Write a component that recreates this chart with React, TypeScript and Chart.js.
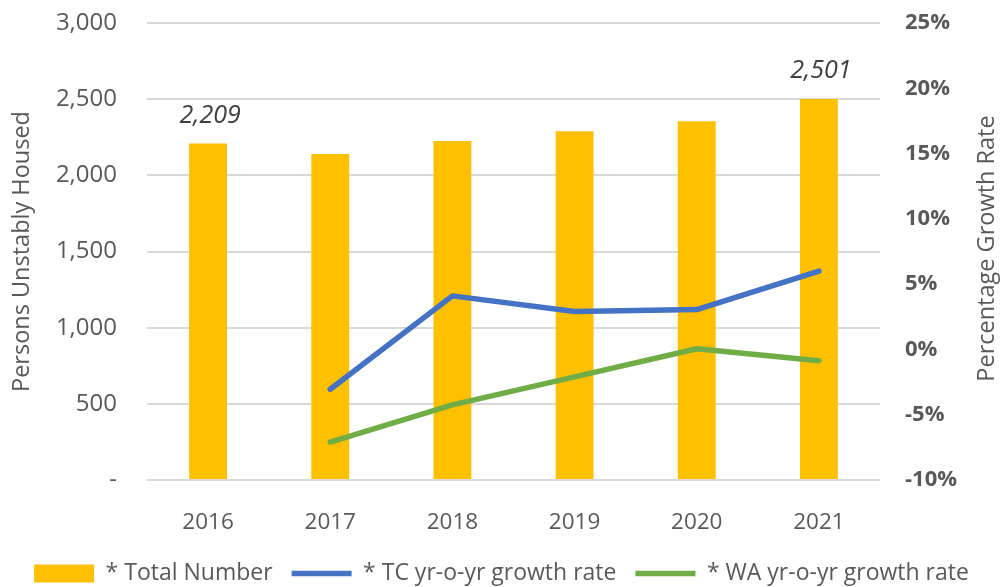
import { useEffect, useRef } from "react";
import { Chart, registerables } from "chart.js";

Chart.register(...registerables);

const years = ["2016", "2017", "2018", "2019", "2020", "2021"];
const totalNumber = [2209, 2140, 2225, 2290, 2355, 2501];
const tcGrowth = [null, -3.05, 4.1, 2.9, 3.05, 6.0];
const waGrowth = [null, -7.1, -4.25, -2.1, 0.05, -0.87];
const labeledYears = ["2016", "2021"];
const leftAxis = { min: 0, max: 3000, step: 500 };
const rightAxis = { min: -10, max: 25, step: 5 };

const FONT = "'Open Sans', 'Noto Sans', sans-serif";
const TEXT = "#595959";

const barLabelPlugin = {
  id: "barLabels",
  afterDatasetsDraw(chart: any) {
    const meta = chart.getDatasetMeta(0);
    const ctx = chart.ctx;
    ctx.save();
    ctx.font = `italic 25px ${FONT}`;
    ctx.fillStyle = "#404040";
    ctx.textAlign = "center";
    ctx.textBaseline = "middle";
    meta.data.forEach((el: any, i: number) => {
      if (!labeledYears.includes(years[i])) return;
      const v = totalNumber[i];
      ctx.fillText(v.toLocaleString("en-US"), el.x + 2, el.y - 28);
    });
    ctx.restore();
  },
};

const rightTitlePlugin = {
  id: "rightTitle",
  afterDraw(chart: any) {
    const ctx = chart.ctx;
    const area = chart.chartArea;
    ctx.save();
    ctx.translate(987, (area.top + area.bottom) / 2 - 3);
    ctx.rotate(-Math.PI / 2);
    ctx.font = `23.5px ${FONT}`;
    ctx.fillStyle = TEXT;
    ctx.textAlign = "center";
    ctx.textBaseline = "middle";
    ctx.fillText("Percentage Growth Rate", 0, 0);
    ctx.restore();
  },
};

export default function App() {
  const ref = useRef<HTMLCanvasElement | null>(null);

  useEffect(() => {
    if (!ref.current) return;
    const chart = new Chart(ref.current, {
      type: "bar",
      data: {
        labels: years,
        datasets: [
          {
            type: "bar",
            label: "* Total Number",
            data: totalNumber,
            backgroundColor: "#FFC000",
            borderWidth: 0,
            yAxisID: "y",
            barPercentage: 0.31,
            categoryPercentage: 1,
            order: 1,
            pointStyle: "rect",
          } as any,
          {
            type: "line",
            label: "* TC yr-o-yr growth rate",
            data: tcGrowth,
            borderColor: "#4472C4",
            backgroundColor: "#4472C4",
            borderWidth: 5.5,
            borderCapStyle: "round",
            borderJoinStyle: "round",
            pointRadius: 0,
            pointHoverRadius: 0,
            tension: 0,
            yAxisID: "y1",
            order: 0,
            pointStyle: "line",
          } as any,
          {
            type: "line",
            label: "* WA yr-o-yr growth rate",
            data: waGrowth,
            borderColor: "#70AD47",
            backgroundColor: "#70AD47",
            borderWidth: 5.5,
            borderCapStyle: "round",
            borderJoinStyle: "round",
            pointRadius: 0,
            pointHoverRadius: 0,
            tension: 0,
            yAxisID: "y1",
            order: 0,
            pointStyle: "line",
          } as any,
        ],
      },
      options: {
        animation: false,
        responsive: true,
        maintainAspectRatio: false,
        layout: { padding: { top: 23, left: 0, right: 0, bottom: -8 } },
        plugins: {
          tooltip: { enabled: false },
          legend: {
            position: "bottom",
            labels: {
              usePointStyle: true,
              pointStyleWidth: 60,
              boxHeight: 18,
              padding: 19,
              color: TEXT,
              font: { family: FONT, size: 23 },
              sort: (a: any, b: any) => a.datasetIndex - b.datasetIndex,
            },
          },
        },
        scales: {
          x: {
            offset: true,
            grid: { display: false },
            border: { display: false },
            ticks: {
              color: TEXT,
              padding: 21,
              font: { family: FONT, size: 22.5 },
            },
            afterFit: (s: any) => {
              s.height = 63;
            },
          },
          y: {
            position: "left",
            min: leftAxis.min,
            max: leftAxis.max,
            grid: {
              color: "#d9d9d9",
              lineWidth: 2,
              drawTicks: true,
              tickLength: 26,
              tickColor: "rgba(0,0,0,0)",
            },
            border: { display: false },
            ticks: {
              stepSize: leftAxis.step,
              color: TEXT,
              padding: 4,
              font: { family: FONT, size: 24 },
              callback: (v: any) => (Number(v) === 0 ? "-" : Number(v).toLocaleString("en-US")),
            },
            title: {
              display: true,
              text: "Persons Unstably Housed",
              color: TEXT,
              font: { family: FONT, size: 23.5 },
              padding: { top: 8, bottom: 0 },
            },
            afterFit: (s: any) => {
              s.width = 147;
            },
          },
          y1: {
            position: "right",
            min: rightAxis.min,
            max: rightAxis.max,
            grid: {
              display: true,
              drawOnChartArea: false,
              drawTicks: true,
              tickLength: 21,
              tickColor: "rgba(0,0,0,0)",
            },
            border: { display: false },
            ticks: {
              stepSize: rightAxis.step,
              color: TEXT,
              padding: 4,
              font: { family: FONT, size: 22, weight: "bold" },
              callback: (v: any) => `${v}%`,
            },
            afterFit: (s: any) => {
              s.width = 123;
            },
          },
        },
      } as any,
      plugins: [barLabelPlugin, rightTitlePlugin],
    });
    return () => chart.destroy();
  }, []);

  return (
    <div style={{ position: "fixed", left: 0, top: 0, width: 1003, height: 587, background: "#fff" }}>
      <canvas ref={ref} />
    </div>
  );
}
